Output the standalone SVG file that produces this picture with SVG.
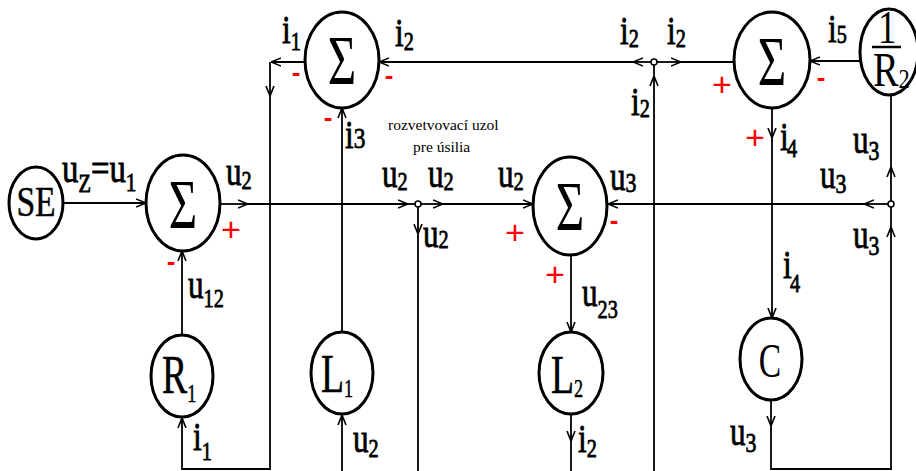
<svg xmlns="http://www.w3.org/2000/svg" width="916" height="471" viewBox="0 0 916 471">
<style>
text{font-family:"Liberation Serif","Times New Roman",serif;fill:#000}
.nd{fill:#fff;stroke:#000;stroke-width:3}
.c{fill:none;stroke:#000;stroke-width:1.8}
.a{marker-end:url(#ah)}
.jn{fill:#fff;stroke:#000;stroke-width:1.5}
.v{font-size:40px;stroke:#000;stroke-width:0.8}
.s{font-size:26px}
.s3{font-size:28px}
.sig{font-size:70px;text-anchor:middle}
.big{font-size:54px;stroke:#000;stroke-width:0.5}
.rp{font-family:"Liberation Sans",Arial,sans-serif;font-size:34px;fill:#f00;text-anchor:middle}
.rm{font-family:"Liberation Sans",Arial,sans-serif;font-weight:bold;font-size:26px;fill:#f00;text-anchor:middle}
.note{font-size:15.5px}
</style>
<defs>
<marker id="ah" viewBox="0 0 10 10" refX="10" refY="5" markerWidth="10" markerHeight="10" markerUnits="userSpaceOnUse" orient="auto">
<path d="M0,1 L10,5 L0,9" fill="none" stroke="#000" stroke-width="1.6"/>
</marker>
</defs>
<rect width="916" height="471" fill="#fff"/>

<g id="connectors">
<path class="c a" d="M63,203 H146"/>
<path class="c a" d="M220,204 H248"/>
<path class="c a" d="M248,204 H408"/>
<path class="c" d="M408,204 H416"/>
<path class="c a" d="M421,204 H443"/>
<path class="c a" d="M443,204 H533"/>
<path class="c a" d="M418,207 V234"/>
<path class="c" d="M418,234 V471"/>
<path class="c a" d="M305,62 H271"/>
<path class="c a" d="M270,62 V96"/>
<path class="c a" d="M270,96 V469 H182 V418"/>
<path class="c a" d="M182,335 V251"/>
<path class="c a" d="M342,332 V108"/>
<path class="c a" d="M342,471 V415"/>
<path class="c a" d="M651,62 H633"/>
<path class="c a" d="M633,62 H379"/>
<path class="c a" d="M657,62 H681"/>
<path class="c" d="M681,62 H734"/>
<path class="c a" d="M654,471 V76"/>
<path class="c" d="M654,76 V65"/>
<path class="c a" d="M861,61 H810"/>
<path class="c a" d="M772,108 V138"/>
<path class="c a" d="M772,138 V318"/>
<path class="c a" d="M571,255 V332"/>
<path class="c a" d="M571,414 V441"/>
<path class="c" d="M571,441 V471"/>
<path class="c a" d="M771,400 V426"/>
<path class="c a" d="M771,426 V469 H891 V227"/>
<path class="c" d="M891,227 V207"/>
<path class="c a" d="M891,201 V167"/>
<path class="c" d="M891,167 V95"/>
<path class="c a" d="M888,204 H864"/>
<path class="c a" d="M864,204 H608"/>
<circle class="jn" cx="418" cy="204" r="3"/>
<circle class="jn" cx="654" cy="62" r="3"/>
<circle class="jn" cx="891" cy="204" r="3"/>
</g>

<g id="SE">
<ellipse class="nd" cx="36" cy="203" rx="27" ry="36"/>
<text font-size="42" text-anchor="middle" stroke="#000" stroke-width="0.5" transform="translate(36,216) scale(.8,1)">SE</text>
</g>
<g id="sum1">
<ellipse class="nd" cx="183" cy="203" rx="37" ry="48"/>
<text class="sig" transform="translate(183,228) scale(.7,1)">Σ</text>
</g>
<g id="sum2">
<ellipse class="nd" cx="342" cy="60" rx="37" ry="48"/>
<text class="sig" transform="translate(342,84) scale(.7,1)">Σ</text>
</g>
<g id="sum3">
<ellipse class="nd" cx="570" cy="206" rx="37" ry="49"/>
<text class="sig" transform="translate(570,230) scale(.7,1)">Σ</text>
</g>
<g id="sum4">
<ellipse class="nd" cx="772" cy="60" rx="38" ry="48"/>
<text class="sig" transform="translate(772,85) scale(.7,1)">Σ</text>
</g>
<g id="invR2">
<ellipse class="nd" cx="889" cy="52" rx="29" ry="43"/>
<text font-size="46" transform="translate(878,43) scale(.8,1)">1</text>
<line x1="872" y1="47" x2="901" y2="47" stroke="#000" stroke-width="2.5"/>
<text font-size="48" transform="translate(873,86) scale(.8,1)">R<tspan font-size="28" dy="2">2</tspan></text>
</g>
<g id="R1">
<ellipse class="nd" cx="182" cy="376" rx="31" ry="41"/>
<text class="big" transform="translate(162,393) scale(.7,1)">R<tspan font-size="26" dy="9">1</tspan></text>
</g>
<g id="L1">
<ellipse class="nd" cx="342" cy="373" rx="31" ry="41"/>
<text class="big" transform="translate(321,392) scale(.7,1)">L<tspan font-size="26" dy="5">1</tspan></text>
</g>
<g id="L2">
<ellipse class="nd" cx="571" cy="373" rx="32" ry="41"/>
<text class="big" transform="translate(551,393) scale(.7,1)">L<tspan font-size="26" dy="4">2</tspan></text>
</g>
<g id="C">
<ellipse class="nd" cx="771" cy="359" rx="31" ry="41"/>
<text font-size="48" text-anchor="middle" transform="translate(770,377) scale(.7,1)">C</text>
</g>

<g id="labels">
<text class="v" transform="translate(62,182) scale(.82,1)">u<tspan font-size="25" dy="10">Z</tspan><tspan dy="-10">=u</tspan><tspan class="s" dy="9">1</tspan></text>
<text class="v" transform="translate(226,185) scale(.78,1)">u<tspan class="s" dy="4">2</tspan></text>
<text class="v" transform="translate(188,298) scale(.78,1)">u<tspan class="s" dy="9">12</tspan></text>
<text class="v" transform="translate(193,450) scale(.78,1)">i<tspan class="s" dy="10">1</tspan></text>
<text class="v" transform="translate(353,452) scale(.78,1)">u<tspan class="s" dy="5">2</tspan></text>
<text class="v" transform="translate(282,43) scale(.78,1)">i<tspan class="s" dy="7">1</tspan></text>
<text class="v" transform="translate(395,46) scale(.78,1)">i<tspan class="s" dy="4">2</tspan></text>
<text class="v" transform="translate(345,148) scale(.78,1)">i<tspan font-size="30">3</tspan></text>
<text class="note" x="388" y="130">rozvetvovací uzol</text>
<text class="note" x="413" y="152">pre úsilia</text>
<text class="v" transform="translate(382,187) scale(.78,1)">u<tspan class="s" dy="3">2</tspan></text>
<text class="v" transform="translate(428,187) scale(.78,1)">u<tspan class="s" dy="3">2</tspan></text>
<text class="v" transform="translate(498,187) scale(.78,1)">u<tspan class="s" dy="3">2</tspan></text>
<text class="v" transform="translate(423,247) scale(.78,1)">u<tspan class="s" dy="1">2</tspan></text>
<text class="v" transform="translate(610,190) scale(.78,1)">u<tspan class="s3" dy="2">3</tspan></text>
<text class="v" transform="translate(582,306) scale(.78,1)">u<tspan class="s" dy="12">23</tspan></text>
<text class="v" transform="translate(578,452) scale(.78,1)">i<tspan class="s" dy="5">2</tspan></text>
<text class="v" transform="translate(620,44) scale(.78,1)">i<tspan class="s" dy="3">2</tspan></text>
<text class="v" transform="translate(667,44) scale(.78,1)">i<tspan class="s" dy="3">2</tspan></text>
<text class="v" transform="translate(631,115) scale(.78,1)">i<tspan class="s" dy="2">2</tspan></text>
<text class="v" transform="translate(828,42) scale(.78,1)">i<tspan class="s" dy="1">5</tspan></text>
<text class="v" transform="translate(780,150) scale(.78,1)">i<tspan class="s" dx="-2" dy="7">4</tspan></text>
<text class="v" transform="translate(783,278) scale(.78,1)">i<tspan class="s" dx="-2" dy="14">4</tspan></text>
<text class="v" transform="translate(853,153) scale(.78,1)">u<tspan class="s3" dy="7">3</tspan></text>
<text class="v" transform="translate(820,188) scale(.78,1)">u<tspan class="s3" dy="5">3</tspan></text>
<text class="v" transform="translate(853,248) scale(.78,1)">u<tspan class="s3" dy="7">3</tspan></text>
<text class="v" transform="translate(730,445) scale(.78,1)">u<tspan class="s3" dy="7">3</tspan></text>
</g>

<g id="signs">
<text class="rp" x="231" y="241">+</text>
<text class="rp" x="515" y="244">+</text>
<text class="rp" x="555" y="286">+</text>
<text class="rp" x="722" y="96">+</text>
<text class="rp" x="755" y="149">+</text>
<text class="rm" x="171" y="270">-</text>
<text class="rm" x="296" y="81">-</text>
<text class="rm" x="389" y="84">-</text>
<text class="rm" x="328" y="126">-</text>
<text class="rm" x="614" y="229">-</text>
<text class="rm" x="821" y="86">-</text>
</g>
</svg>
